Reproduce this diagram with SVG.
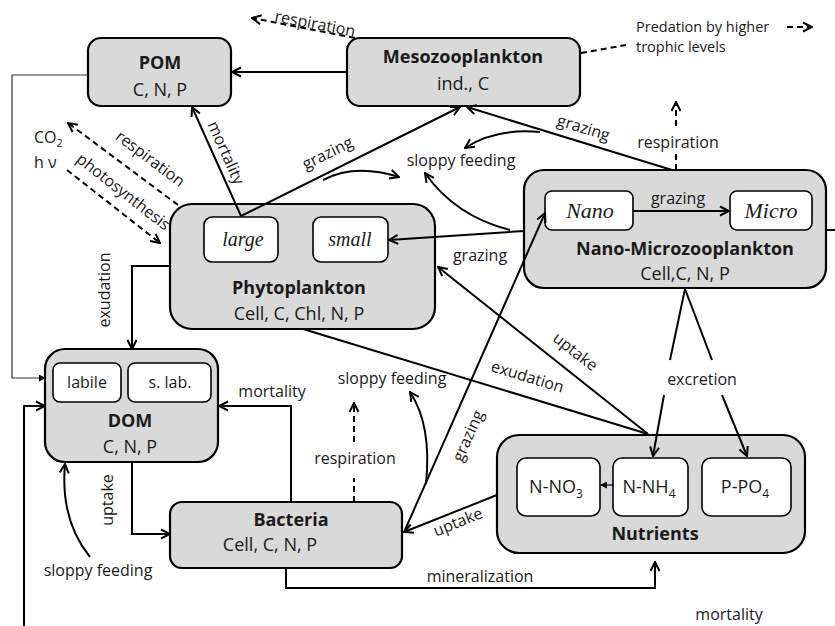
<svg xmlns="http://www.w3.org/2000/svg" width="835" height="626" viewBox="0 0 835 626">
<defs>
<style>
.box{fill:#d9d9d9;stroke:#000;stroke-width:2.2}
.inner{fill:#fff;stroke:#000;stroke-width:1.6}
.t{font-family:"Open Sans","Noto Sans",sans-serif;font-size:16px;fill:#1a1a1a}
.p{font-family:"Open Sans","Noto Sans",sans-serif;font-size:14.5px;fill:#1a1a1a}
.b{font-family:"Open Sans","Noto Sans",sans-serif;font-size:18px;font-weight:bold;fill:#1a1a1a;text-anchor:middle}
.s{font-family:"Open Sans","Noto Sans",sans-serif;font-size:18px;fill:#1a1a1a;text-anchor:middle}
.it{font-family:"Liberation Serif",serif;font-style:italic;font-size:20px;fill:#1a1a1a;text-anchor:middle}
.c{fill:none;stroke:#000;stroke-width:2}
.d{fill:none;stroke:#000;stroke-width:2;stroke-dasharray:6,4}
.m{text-anchor:middle}
</style>
<marker id="a" viewBox="0 0 12 12" refX="11" refY="6" markerWidth="12" markerHeight="12" markerUnits="userSpaceOnUse" orient="auto">
<path d="M2,1.5 L11,6 L2,10.5" fill="none" stroke="#000" stroke-width="2"/>
</marker>
<marker id="sa" viewBox="0 0 8 8" refX="7" refY="4" markerWidth="7" markerHeight="7" markerUnits="userSpaceOnUse" orient="auto">
<path d="M0,0 L8,4 L0,8 Z" fill="#000"/>
</marker>
</defs>
<rect width="835" height="626" fill="#fff"/>

<g id="POM">
<rect class="box" x="88" y="38" width="143" height="68" rx="13"/>
<text class="b" x="160" y="69">POM</text>
<text class="s" x="160" y="96">C, N, P</text>
</g>

<g id="Mesozooplankton">
<rect class="box" x="347" y="38" width="233" height="68" rx="13"/>
<text class="b" x="463" y="63">Mesozooplankton</text>
<text class="s" x="463" y="90">ind., C</text>
</g>

<g id="Phytoplankton">
<rect class="box" x="170" y="204" width="265" height="125" rx="22"/>
<rect class="inner" x="204" y="217" width="74" height="45" rx="8"/>
<rect class="inner" x="313" y="217" width="75" height="45" rx="8"/>
<text class="it" x="243" y="246">large</text>
<text class="it" x="350" y="246">small</text>
<text class="b" x="299" y="294">Phytoplankton</text>
<text class="s" x="299" y="320">Cell, C, Chl, N, P</text>
</g>

<g id="NanoMicrozooplankton">
<rect class="box" x="524" y="170" width="302" height="118" rx="20"/>
<rect class="inner" x="545" y="191" width="88" height="39" rx="7"/>
<rect class="inner" x="730" y="191" width="82" height="39" rx="7"/>
<text class="it" x="590" y="218" style="font-size:22px">Nano</text>
<text class="it" x="771" y="218" style="font-size:22px">Micro</text>
<text class="b" x="685" y="255">Nano-Microzooplankton</text>
<text class="s" x="685" y="280">Cell,C, N, P</text>
</g>

<g id="DOM">
<rect class="box" x="45" y="349" width="173" height="113" rx="20"/>
<rect class="inner" x="53" y="363" width="68" height="39" rx="7"/>
<rect class="inner" x="128" y="363" width="83" height="39" rx="7"/>
<text class="s" x="87" y="388" style="font-size:16px">labile</text>
<text class="s" x="170" y="388" style="font-size:16px">s. lab.</text>
<text class="b" x="130" y="427">DOM</text>
<text class="s" x="130" y="453">C, N, P</text>
</g>

<g id="Bacteria">
<rect class="box" x="170" y="502" width="232" height="66" rx="12"/>
<text class="b" x="291" y="526">Bacteria</text>
<text class="s" x="270" y="551">Cell, C, N, P</text>
</g>

<g id="Nutrients">
<rect class="box" x="497" y="435" width="308" height="118" rx="22"/>
<rect class="inner" x="517" y="458" width="83" height="58" rx="9"/>
<rect class="inner" x="613" y="458" width="75" height="58" rx="9"/>
<rect class="inner" x="702" y="458" width="89" height="58" rx="9"/>
<text class="s" x="556" y="493">N-NO<tspan dy="5" font-size="12">3</tspan></text>
<text class="s" x="649" y="493">N-NH<tspan dy="5" font-size="12">4</tspan></text>
<text class="s" x="745" y="493">P-PO<tspan dy="5" font-size="12">4</tspan></text>
<text class="b" x="655" y="540">Nutrients</text>
</g>

<g id="connectors">
<line class="c" x1="347" y1="72" x2="232" y2="72" marker-end="url(#a)"/>
<line class="d" x1="355" y1="38" x2="252" y2="18" marker-end="url(#a)"/>
<line class="d" x1="581" y1="53" x2="626" y2="45"/>
<line class="d" x1="787" y1="27" x2="812" y2="27" stroke-dasharray="3,3,7,3" marker-end="url(#a)"/>
<polyline fill="none" stroke="#333" stroke-width="1.2" points="88,75 12,75 12,378 45,378" marker-end="url(#sa)"/>
<line class="c" x1="241" y1="216" x2="192" y2="107" marker-end="url(#a)"/>
<line class="c" x1="241" y1="216" x2="460" y2="107" marker-end="url(#a)"/>
<path class="c" d="M323,180 Q355,163 399,177" marker-end="url(#a)"/>
<line class="c" x1="672" y1="170" x2="467" y2="107" marker-end="url(#a)"/>
<path class="c" d="M540,132 Q495,128 465,148" marker-end="url(#a)"/>
<line class="d" x1="676" y1="170" x2="676" y2="154"/>
<line class="d" x1="676" y1="126" x2="676" y2="102" marker-end="url(#a)"/>
<line class="c" x1="524" y1="231" x2="389" y2="240" marker-end="url(#a)"/>
<path class="c" d="M510,230 Q455,216 425,173" marker-end="url(#a)"/>
<line class="c" x1="633" y1="211" x2="729" y2="211" marker-end="url(#a)"/>
<line class="c" x1="826" y1="230" x2="835" y2="230"/>
<line class="d" x1="178" y1="205" x2="68" y2="123" marker-end="url(#a)"/>
<line class="d" x1="67" y1="170" x2="160" y2="243" marker-end="url(#a)"/>
<polyline class="c" points="170,266 132,266 132,349" marker-end="url(#a)"/>
<line class="c" x1="303" y1="329" x2="648" y2="434"/>
<line class="c" x1="648" y1="434" x2="438" y2="267" marker-end="url(#a)"/>
<line class="c" x1="405" y1="530" x2="545" y2="213" marker-end="url(#a)"/>
<path class="c" d="M426,484 Q432,425 410,392" marker-end="url(#a)"/>
<line class="c" x1="497" y1="495" x2="404" y2="532" marker-end="url(#a)"/>
<line class="d" x1="354" y1="502" x2="354" y2="478"/>
<line class="d" x1="354" y1="442" x2="354" y2="403" marker-end="url(#a)"/>
<polyline class="c" points="291,502 291,406 219,406" marker-end="url(#a)"/>
<polyline class="c" points="132,462 132,534 170,534" marker-end="url(#a)"/>
<path class="c" d="M90,557 Q60,520 65,464" marker-end="url(#a)"/>
<polyline class="c" points="24,626 24,406 45,406" marker-end="url(#a)"/>
<polyline class="c" points="286,568 286,588 655,588 655,562" marker-end="url(#a)"/>
<line class="c" x1="685" y1="289" x2="670" y2="360"/>
<line class="c" x1="685" y1="289" x2="712" y2="360"/>
<line class="c" x1="664" y1="395" x2="653" y2="456" marker-end="url(#a)"/>
<line class="c" x1="722" y1="395" x2="747" y2="456" marker-end="url(#a)"/>
<line stroke="#000" stroke-width="1.2" x1="613" y1="485" x2="601" y2="485" marker-end="url(#sa)"/>
</g>

<g id="labels">
<text class="t m" transform="translate(314,29) rotate(11)">respiration</text>
<text class="p" x="636" y="32">Predation by higher</text>
<text class="p" x="636" y="52">trophic levels</text>
<text class="t" x="34" y="143">CO<tspan dy="4" font-size="11">2</tspan></text>
<text class="t" x="34" y="168">h ν</text>
<text class="t m" transform="translate(147,163) rotate(37)">respiration</text>
<text class="t m" transform="translate(120,196) rotate(38)">photosynthesis</text>
<text class="t m" transform="translate(221,155) rotate(66)">mortality</text>
<text class="t m" transform="translate(330,158) rotate(-26.6)">grazing</text>
<text class="t m" transform="translate(582,133) rotate(17)">grazing</text>
<text class="t m" x="461" y="166">sloppy feeding</text>
<text class="t m" x="678" y="148">respiration</text>
<text class="t m" x="678" y="204">grazing</text>
<text class="t m" x="480" y="261">grazing</text>
<text class="t m" transform="translate(110,290) rotate(-90)">exudation</text>
<text class="t m" transform="translate(572,356) rotate(38)">uptake</text>
<text class="t m" transform="translate(526,382) rotate(17)">exudation</text>
<text class="t m" x="702" y="385">excretion</text>
<text class="t m" x="392" y="384">sloppy feeding</text>
<text class="t m" x="272" y="397">mortality</text>
<text class="t m" transform="translate(473,438) rotate(-66)">grazing</text>
<text class="t m" x="355" y="464">respiration</text>
<text class="t m" transform="translate(113,500) rotate(-90)">uptake</text>
<text class="t m" transform="translate(460,527) rotate(-22)">uptake</text>
<text class="t m" x="98" y="576">sloppy feeding</text>
<text class="t m" x="480" y="582">mineralization</text>
<text class="t m" x="729" y="620">mortality</text>
</g>
</svg>
